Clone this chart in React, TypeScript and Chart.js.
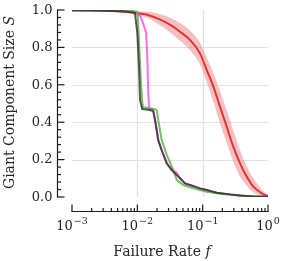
import React, { useEffect, useRef } from "react";
import { Chart, registerables } from "chart.js";

Chart.register(...registerables);

// ---- data ----
const redF = [0.001, 0.002, 0.004, 0.007, 0.01, 0.015, 0.022, 0.032, 0.045, 0.064, 0.091, 0.115, 0.146, 0.184, 0.233, 0.294, 0.373, 0.472, 0.596, 0.8, 1.0];
const redMean = [0.999, 0.998, 0.995, 0.99, 0.983, 0.972, 0.95, 0.92, 0.884, 0.84, 0.768, 0.68, 0.59, 0.483, 0.376, 0.269, 0.18, 0.109, 0.055, 0.02, 0.005];
const redUpper = [1.0, 1.0, 0.999, 0.997, 0.993, 0.99, 0.978, 0.958, 0.93, 0.89, 0.825, 0.745, 0.665, 0.565, 0.465, 0.355, 0.25, 0.165, 0.1, 0.04, 0.01];
const redLower = [0.997, 0.995, 0.99, 0.982, 0.972, 0.955, 0.92, 0.88, 0.835, 0.785, 0.71, 0.615, 0.51, 0.395, 0.29, 0.19, 0.11, 0.06, 0.025, 0.006, 0.0];

const pinkF = [0.001, 0.003, 0.006, 0.009, 0.011, 0.0122, 0.0136, 0.0142, 0.0147, 0.0153, 0.0175, 0.0187, 0.0209, 0.0236, 0.0282, 0.033, 0.039, 0.045, 0.0537, 0.064, 0.091, 0.115, 0.164, 0.262, 0.45, 1.0];
const pinkS = [0.999, 0.998, 0.996, 0.99, 0.97, 0.93, 0.88, 0.75, 0.55, 0.47, 0.465, 0.41, 0.305, 0.25, 0.18, 0.145, 0.135, 0.1, 0.073, 0.064, 0.046, 0.037, 0.023, 0.014, 0.006, 0.001];

const greenF = [0.001, 0.003, 0.006, 0.0095, 0.0101, 0.0107, 0.0114, 0.0121, 0.0156, 0.0186, 0.0198, 0.0209, 0.0236, 0.0282, 0.0356, 0.0401, 0.0506, 0.0719, 0.115, 0.164, 0.262, 0.45, 1.0];
const greenS = [0.999, 0.998, 0.996, 0.992, 0.985, 0.8, 0.6, 0.48, 0.475, 0.47, 0.465, 0.41, 0.305, 0.225, 0.144, 0.09, 0.064, 0.046, 0.028, 0.02, 0.012, 0.005, 0.001];

const grayF = [0.001, 0.003, 0.006, 0.0092, 0.01, 0.0106, 0.011, 0.0119, 0.0135, 0.0155, 0.0175, 0.0187, 0.0209, 0.0236, 0.0282, 0.0356, 0.045, 0.0537, 0.064, 0.091, 0.115, 0.164, 0.262, 0.373, 0.6, 1.0];
const grayS = [0.998, 0.996, 0.993, 0.985, 0.875, 0.695, 0.52, 0.47, 0.468, 0.465, 0.46, 0.41, 0.305, 0.25, 0.18, 0.135, 0.1, 0.073, 0.064, 0.046, 0.037, 0.023, 0.014, 0.008, 0.003, 0.001];

// ---- ticks ----
const yMajorTicks = [0, 0.2, 0.4, 0.6, 0.8, 1.0];
const yTickLabels = ["0.0", "0.2", "0.4", "0.6", "0.8", "1.0"];
const yGridValues = [0.2, 0.4, 0.6, 0.8];
const xMajorTicks = [0.001, 0.01, 0.1, 1];
const xTickBase = "10";
const xTickExponents = ["\u22123", "\u22122", "\u22121", "0"];
const xGridValues = [0.01, 0.1];
const xTitle = "Failure Rate ";
const xTitleVar = "f";
const yTitle = "Giant Component Size ";
const yTitleVar = "S";

const FONT = '"DejaVu Serif", serif';
const TEXT = "#262626";

const pts = (xs: number[], ys: number[]) => xs.map((x, i) => ({ x, y: ys[i] }));

const decor = {
  id: "decor",
  beforeDatasetsDraw(chart: any) {
    const { ctx, chartArea: a, scales } = chart;
    const x = scales.x, y = scales.y;
    ctx.save();
    ctx.strokeStyle = "#e2e2e2";
    ctx.lineWidth = 1.2;
    for (const v of yGridValues) {
      const py = Math.round(y.getPixelForValue(v)) + 0.5;
      ctx.beginPath(); ctx.moveTo(a.left, py); ctx.lineTo(a.right, py); ctx.stroke();
    }
    for (const v of xGridValues) {
      const px = Math.round(x.getPixelForValue(v)) + 0.5;
      ctx.beginPath(); ctx.moveTo(px, a.top); ctx.lineTo(px, a.bottom); ctx.stroke();
    }
    ctx.restore();
  },
  afterDraw(chart: any) {
    const { ctx, chartArea: a, scales } = chart;
    const x = scales.x, y = scales.y;
    ctx.save();
    ctx.strokeStyle = "#1a1a1a";
    ctx.fillStyle = TEXT;
    ctx.lineWidth = 1.2;
    // y spine (offset)
    const sx = a.left - 14.5;
    const y0 = y.getPixelForValue(0), y1 = y.getPixelForValue(1);
    ctx.beginPath(); ctx.moveTo(sx, y1 - 0.6); ctx.lineTo(sx, y0 + 0.6); ctx.stroke();
    for (let k = 0; k <= 25; k++) {
      const v = k * 0.04;
      const py = y.getPixelForValue(v);
      const len = k % 5 === 0 ? 7 : 3.5;
      ctx.beginPath(); ctx.moveTo(sx, py); ctx.lineTo(sx + len, py); ctx.stroke();
    }
    // x spine (offset)
    const sy = a.bottom + 14.5;
    const xa = x.getPixelForValue(0.001), xb = x.getPixelForValue(1);
    ctx.beginPath(); ctx.moveTo(xa - 0.6, sy); ctx.lineTo(xb + 0.6, sy); ctx.stroke();
    for (let d = 0; d < 3; d++) {
      const base = xMajorTicks[d];
      for (let m = 2; m <= 9; m++) {
        const px = x.getPixelForValue(base * m);
        ctx.beginPath(); ctx.moveTo(px, sy); ctx.lineTo(px, sy - 3.5); ctx.stroke();
      }
    }
    for (const v of xMajorTicks) {
      const px = x.getPixelForValue(v);
      ctx.beginPath(); ctx.moveTo(px, sy); ctx.lineTo(px, sy - 7); ctx.stroke();
    }
    // y tick labels
    ctx.font = `13px ${FONT}`;
    ctx.textAlign = "right";
    ctx.textBaseline = "middle";
    yMajorTicks.forEach((v, i) => {
      ctx.fillText(yTickLabels[i], sx - 5, y.getPixelForValue(v) + 0.5);
    });
    // x tick labels with superscripts
    ctx.textBaseline = "alphabetic";
    ctx.textAlign = "left";
    xMajorTicks.forEach((v, i) => {
      const px = x.getPixelForValue(v);
      ctx.font = `13px ${FONT}`;
      const wb = ctx.measureText(xTickBase).width;
      ctx.font = `9.5px ${FONT}`;
      const we = ctx.measureText(xTickExponents[i]).width;
      const left = px - (wb + we + 1) / 2;
      ctx.font = `13px ${FONT}`;
      ctx.fillText(xTickBase, left, sy + 18);
      ctx.font = `9.5px ${FONT}`;
      ctx.fillText(xTickExponents[i], left + wb + 1, sy + 12);
    });
    // x title
    ctx.font = `14px ${FONT}`;
    const wt = ctx.measureText(xTitle).width;
    ctx.font = `italic 14px ${FONT}`;
    const wv = ctx.measureText(xTitleVar).width;
    const tx = (a.left + a.right) / 2 - 8 - (wt + wv) / 2;
    ctx.font = `14px ${FONT}`;
    ctx.fillText(xTitle, tx, sy + 44);
    ctx.font = `italic 14px ${FONT}`;
    ctx.fillText(xTitleVar, tx + wt, sy + 44);
    // y title (rotated)
    ctx.save();
    ctx.translate(14, (y0 + y1) / 2 - 1);
    ctx.rotate(-Math.PI / 2);
    ctx.font = `14px ${FONT}`;
    const wyt = ctx.measureText(yTitle).width;
    ctx.font = `italic 14px ${FONT}`;
    const wyv = ctx.measureText(yTitleVar).width;
    const ty = -(wyt + wyv) / 2;
    ctx.font = `14px ${FONT}`;
    ctx.fillText(yTitle, ty, 0);
    ctx.font = `italic 14px ${FONT}`;
    ctx.fillText(yTitleVar, ty + wyt, 0);
    ctx.restore();
    ctx.restore();
  },
};

export default function App() {
  const ref = useRef<HTMLCanvasElement | null>(null);
  useEffect(() => {
    document.body.style.margin = "0";
    const canvas = ref.current;
    if (!canvas) return;
    const line = (data: any, color: string, order: number) => ({
      data,
      borderColor: color,
      borderWidth: 2,
      pointRadius: 0,
      fill: false,
      tension: 0,
      order,
    });
    const chart = new Chart(canvas, {
      type: "line",
      data: {
        datasets: [
          {
            data: pts(redF, redUpper),
            borderWidth: 0,
            borderColor: "rgba(0,0,0,0)",
            pointRadius: 0,
            fill: "+1",
            backgroundColor: "rgba(240,130,130,0.5)",
            cubicInterpolationMode: "monotone",
            order: 10,
          },
          {
            data: pts(redF, redLower),
            borderWidth: 0,
            borderColor: "rgba(0,0,0,0)",
            pointRadius: 0,
            fill: false,
            cubicInterpolationMode: "monotone",
            order: 11,
          },
          { ...line(pts(redF, redMean), "rgb(226,52,56)", 5), cubicInterpolationMode: "monotone" },
          line(pts(pinkF, pinkS), "rgba(255,80,240,0.85)", 4),
          line(pts(greenF, greenS), "rgba(90,180,70,0.85)", 3),
          line(pts(grayF, grayS), "rgba(45,45,45,0.8)", 2),
        ],
      },
      options: {
        responsive: false,
        animation: false,
        events: [],
        layout: { padding: { left: 72, right: 15, top: 10, bottom: 64 } },
        scales: {
          x: { type: "logarithmic", min: 0.001, max: 1, display: false },
          y: { type: "linear", min: 0, max: 1, display: false },
        },
        plugins: { legend: { display: false }, tooltip: { enabled: false } },
      },
      plugins: [decor],
    });
    return () => chart.destroy();
  }, []);
  return (
    <div style={{ width: 283, height: 261 }}>
      <canvas ref={ref} width={283} height={261} />
    </div>
  );
}
